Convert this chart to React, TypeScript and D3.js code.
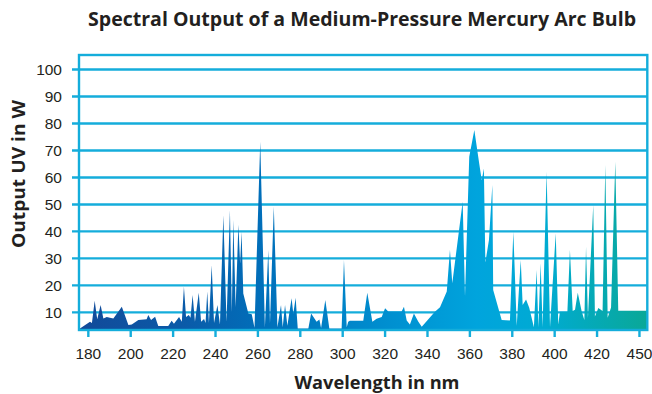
import React from "react";
import * as d3 from "d3";

// Wavelength (nm) and output (W)
const wavelengths = [
  175.6, 176.4, 180.8, 181.7, 183.0, 184.2, 185.8, 187.1, 188.7, 190.2, 191.8, 195.8, 198.9, 200.5,
  203.6, 207.5, 208.3, 209.6, 211.5, 213.0, 217.7, 219.3, 220.4, 222.8, 224.1, 225.1, 226.1, 227.4,
  228.2, 229.2, 230.3, 232.1, 233.2, 234.6, 235.3, 236.1, 236.9, 238.2, 239.3, 240.9, 242.1, 243.7,
  245.2, 246.8, 247.7, 248.4, 249.5, 250.8, 251.6, 252.3, 253.1, 255.5, 257.1, 258.4, 261.1, 263.3,
  264.9, 265.7, 267.5, 269.2, 270.9, 271.7, 272.8, 273.9, 275.9, 276.7, 277.8, 278.8, 283.8, 285.1,
  287.7, 289.0, 289.8, 291.8, 293.7, 299.5, 300.6, 301.9, 302.6, 303.4, 309.7, 311.6, 314.0, 316.0,
  318.4, 320.0, 321.5, 327.8, 328.9, 330.2, 331.7, 333.6, 335.7, 337.3, 343.5, 345.9, 349.1, 350.6,
  351.7, 356.6, 357.7, 359.7, 362.1, 364.4, 365.6, 366.6, 367.3, 369.0, 370.6, 371.0, 375.0, 378.9,
  380.5, 382.1, 384.0, 384.9, 386.5, 388.0, 390.2, 391.5, 392.3, 393.4, 394.3, 396.2, 397.8, 400.5,
  401.7, 402.5, 406.0, 407.2, 408.5, 409.6, 410.9, 412.7, 414.0, 414.8, 415.7, 418.2, 419.0, 420.6,
  422.6, 423.9, 425.0, 426.6, 428.6, 430.0, 443.7,
];
const outputs = [
  3.8, 4.2, 6.5, 6.0, 14.3, 7.4, 12.7, 7.7, 8.3, 8.0, 7.7, 12.1, 5.3, 5.5,
  7.2, 7.4, 9.0, 7.2, 8.4, 4.9, 4.9, 6.9, 5.8, 8.3, 6.5, 19.5, 8.3, 9.0,
  8.0, 16.4, 6.5, 17.3, 6.5, 7.5, 6.0, 17.7, 6.0, 27.5, 6.0, 12.7, 5.5, 46.0,
  6.5, 47.8, 10.0, 44.2, 12.0, 42.5, 28.0, 39.9, 17.0, 9.6, 9.3, 4.3, 73.2, 4.5,
  33.1, 6.0, 49.2, 4.5, 12.7, 4.5, 12.7, 5.0, 15.2, 9.5, 15.4, 4.0, 4.0, 9.6,
  6.5, 7.3, 4.2, 14.6, 4.0, 4.0, 29.4, 4.5, 6.5, 6.9, 6.9, 17.3, 6.5, 7.6,
  8.3, 11.5, 10.3, 10.3, 12.1, 7.0, 5.5, 9.6, 6.5, 4.7, 10.2, 11.9, 17.7, 33.1,
  20.8, 51.0, 16.0, 67.7, 77.6, 65.2, 59.0, 63.3, 28.5, 36.8, 57.2, 18.3, 7.2, 7.0,
  39.9, 5.0, 29.4, 12.7, 14.8, 11.7, 4.5, 25.7, 4.5, 28.2, 4.5, 62.1, 4.5, 39.3,
  5.5, 10.2, 10.2, 33.1, 10.5, 11.0, 17.3, 10.5, 7.2, 34.3, 8.0, 49.8, 8.5, 11.6,
  10.5, 64.6, 8.0, 11.8, 65.8, 10.6, 10.6,
];

const yTicks = [10, 20, 30, 40, 50, 60, 70, 80, 90, 100];
const xTickValues = [180, 200, 220, 240, 260, 280, 300, 320, 340, 360, 380, 400, 420, 440];
const xTickLabels = ["180", "200", "220", "240", "260", "280", "300", "320", "340", "360", "380", "400", "420", "450"];

const title = "Spectral Output of a Medium-Pressure Mercury Arc Bulb";
const xTitle = "Wavelength in nm";
const yTitle = "Output UV in W";

export default function App() {
  const left = 79, right = 647.3, top = 55, bottom = 330;
  const x = d3.scaleLinear().domain([175.6, 443.7]).range([left, right]);
  const y = d3.scaleLinear().domain([3.45, 105.4]).range([bottom, top]);
  const area = d3
    .area<number>()
    .x((_, i) => x(wavelengths[i]))
    .y0(bottom)
    .y1((d) => y(d));
  const path = area(outputs) || "";
  const grid = "#14addb";
  const textColor = "#231f20";

  return (
    <svg width={652} height={394} style={{ position: "absolute", left: 0, top: 0, background: "#fff" }}>
      <defs>
        <linearGradient id="spec" gradientUnits="userSpaceOnUse" x1={left} y1={0} x2={right} y2={0}>
          <stop offset="0" stopColor="#124a99" />
          <stop offset="0.18" stopColor="#0b5aa8" />
          <stop offset="0.33" stopColor="#0070bb" />
          <stop offset="0.5" stopColor="#0089cc" />
          <stop offset="0.7" stopColor="#00a4dd" />
          <stop offset="0.82" stopColor="#00abd2" />
          <stop offset="1" stopColor="#0aa897" />
        </linearGradient>
      </defs>
      <text x={362} y={26} textAnchor="middle" fontFamily="'Open Sans', sans-serif" fontWeight={700} fontSize={19} textLength={548} lengthAdjust="spacingAndGlyphs" fill={textColor}>
        {title}
      </text>
      {yTicks.map((t) => (
        <g key={t}>
          <line x1={left - 7} x2={right} y1={y(t)} y2={y(t)} stroke={grid} strokeWidth={2.4} />
          <text x={62} y={y(t) + 5.5} textAnchor="end" fontFamily="'Liberation Sans', Arial, sans-serif" fontSize={15.5} fill={textColor}>
            {t}
          </text>
        </g>
      ))}
      <path d={path} fill="url(#spec)" />
      <rect x={left} y={top} width={right - left} height={bottom - top} fill="none" stroke={grid} strokeWidth={2.4} />
      {xTickValues.map((t, i) => (
        <g key={t}>
          <line x1={x(t)} x2={x(t)} y1={bottom} y2={bottom + 7} stroke={grid} strokeWidth={2.4} />
          <text x={x(t)} y={359} textAnchor="middle" fontFamily="'Liberation Sans', Arial, sans-serif" fontSize={15.5} fill={textColor}>
            {xTickLabels[i]}
          </text>
        </g>
      ))}
      <text x={377} y={389} textAnchor="middle" fontFamily="'Open Sans', sans-serif" fontWeight={700} fontSize={18} textLength={165} lengthAdjust="spacingAndGlyphs" fill={textColor}>
        {xTitle}
      </text>
      <text
        transform={`translate(25, 174) rotate(-90)`}
        textAnchor="middle"
        fontFamily="'Open Sans', sans-serif"
        fontWeight={700}
        fontSize={18}
        textLength={148}
        lengthAdjust="spacingAndGlyphs"
        fill={textColor}
      >
        {yTitle}
      </text>
    </svg>
  );
}
